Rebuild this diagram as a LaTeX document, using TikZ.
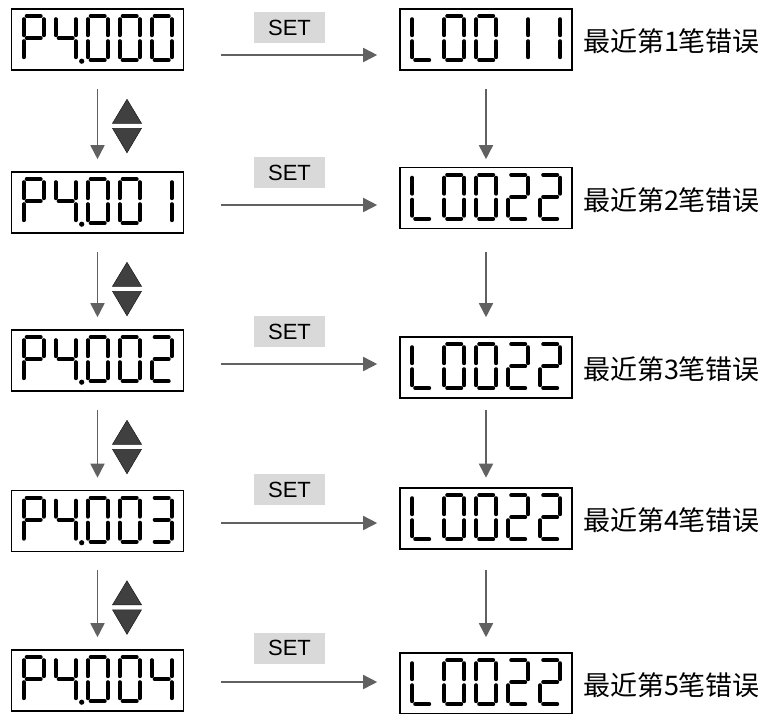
\documentclass[tikz,border=0pt]{standalone}
\usepackage{fontspec}
\setmainfont{Liberation Sans}
\newfontfamily\cjk{Noto Sans CJK SC}
\usetikzlibrary{arrows.meta,calc}

% one digit: origin top left, y downwards
\newcommand{\sga}{(3,0) -- (17,0)}
\newcommand{\sgb}{(20,3) -- (20,19)}
\newcommand{\sgc}{(20,25) -- (20,41)}
\newcommand{\sgd}{(3,44) -- (17,44)}
\newcommand{\sge}{(0,25) -- (0,41)}
\newcommand{\sgf}{(0,3) -- (0,19)}
\newcommand{\sgg}{(3,22) -- (17,22)}
\newcommand{\dgP}{a,b,e,f,g}
\newcommand{\dgZero}{a,b,c,d,e,f}
\newcommand{\dgOne}{b,c}
\newcommand{\dgTwo}{a,b,d,e,g}
\newcommand{\dgThree}{a,b,c,d,g}
\newcommand{\dgFour}{b,c,f,g}
\newcommand{\dgL}{d,e,f}
\newcommand{\sgdigit}[2]{%
  \edef\sglist{#2}%
  \begin{scope}[shift={#1}]
    \foreach \s in \sglist {\expandafter\let\expandafter\sgpath\csname sg\s\endcsname \draw[seg] \sgpath;}
  \end{scope}}
\newcommand{\sgdisplay}[2]{%
  \foreach \segs [count=\i from 0] in {#2}
    {\sgdigit{($(#1.north west)+(13+32*\i,8)$)}{\segs}}}
\newcommand{\sgdot}[1]{\fill ($(#1.north west)+(71,53)$) circle[radius=2.6pt];}
\newcommand{\updown}[1]{%
  \filldraw[updown] ($(#1)+(-14.5,-2.5)$) -- ($(#1)+(0,-26.5)$) -- ($(#1)+(14.5,-2.5)$) -- cycle;
  \filldraw[updown] ($(#1)+(-14.5,2.5)$) -- ($(#1)+(0,27)$) -- ($(#1)+(14.5,2.5)$) -- cycle;}

\begin{document}
\begin{tikzpicture}[x=1pt,y=-1pt,
  disp/.style={draw,line width=1.6pt,minimum width=172pt,minimum height=61pt,inner sep=0pt},
  seg/.style={line width=4pt,line cap=round},
  setkey/.style={fill=black!15,minimum width=71pt,minimum height=31pt,inner sep=0pt,font=\fontsize{22}{24}\selectfont},
  errtxt/.style={anchor=west,inner sep=0pt,font=\cjk\fontsize{27}{30}\selectfont},
  arr/.style={-{Triangle[length=14pt,width=14pt]},line width=1.6pt,black!62},
  updown/.style={fill=black!75,draw=black!90,line width=0.5pt}]
\useasboundingbox (0,0) rectangle (766,713);
% parameter displays
\node[disp] (p1) at (97.5,39.5)  {};
\node[disp] (p2) at (97.5,202.5) {};
\node[disp] (p3) at (97.5,360.5) {};
\node[disp] (p4) at (97.5,521)   {};
\node[disp] (p5) at (97.5,680.5) {};
\sgdisplay{p1}{\dgP,\dgFour,\dgZero,\dgZero,\dgZero} \sgdot{p1}
\sgdisplay{p2}{\dgP,\dgFour,\dgZero,\dgZero,\dgOne}  \sgdot{p2}
\sgdisplay{p3}{\dgP,\dgFour,\dgZero,\dgZero,\dgTwo}  \sgdot{p3}
\sgdisplay{p4}{\dgP,\dgFour,\dgZero,\dgZero,\dgThree} \sgdot{p4}
\sgdisplay{p5}{\dgP,\dgFour,\dgZero,\dgZero,\dgFour} \sgdot{p5}
% error displays
\node[disp] (l1) at (486,39.5)  {};
\node[disp] (l2) at (486,198)   {};
\node[disp] (l3) at (486,367.5) {};
\node[disp] (l4) at (486,518.5) {};
\node[disp] (l5) at (486,683.5) {};
\sgdisplay{l1}{\dgL,\dgZero,\dgZero,\dgOne,\dgOne}
\sgdisplay{l2}{\dgL,\dgZero,\dgZero,\dgTwo,\dgTwo}
\sgdisplay{l3}{\dgL,\dgZero,\dgZero,\dgTwo,\dgTwo}
\sgdisplay{l4}{\dgL,\dgZero,\dgZero,\dgTwo,\dgTwo}
\sgdisplay{l5}{\dgL,\dgZero,\dgZero,\dgTwo,\dgTwo}
\node[errtxt] (t1) at ([xshift=10pt,yshift=-2pt]l1.east) {最近第1笔错误};
\node[errtxt] (t2) at ([xshift=10pt,yshift=-2pt]l2.east) {最近第2笔错误};
\node[errtxt] (t3) at ([xshift=10pt,yshift=-2pt]l3.east) {最近第3笔错误};
\node[errtxt] (t4) at ([xshift=10pt,yshift=-2pt]l4.east) {最近第4笔错误};
\node[errtxt] (t5) at ([xshift=10pt,yshift=-2pt]l5.east) {最近第5笔错误};
% SET keys
\node[setkey] (s1) at (289.5,27.5)  {SET};
\node[setkey] (s2) at (289.5,172.5) {SET};
\node[setkey] (s3) at (289.5,331.5) {SET};
\node[setkey] (s4) at (289.5,489.5) {SET};
\node[setkey] (s5) at (289.5,648)   {SET};
\coordinate (h1) at (221,55);
\coordinate (h2) at (221,205);
\coordinate (h3) at (221,364);
\coordinate (h4) at (221,523);
\coordinate (h5) at (221,682);
\draw[arr,shorten >=22pt] (h1) -- (h1 -| l1.west);
\draw[arr,shorten >=22pt] (h2) -- (h2 -| l2.west);
\draw[arr,shorten >=22pt] (h3) -- (h3 -| l3.west);
\draw[arr,shorten >=22pt] (h4) -- (h4 -| l4.west);
\draw[arr,shorten >=22pt] (h5) -- (h5 -| l5.west);
% up/down stepping
\draw[arr] ([yshift=-18pt]p1.south) coordinate (v1) -- ([yshift=12pt]p2.north) coordinate (w1);
\draw[arr] ([yshift=-18pt]p2.south) coordinate (v2) -- ([yshift=12pt]p3.north) coordinate (w2);
\draw[arr] ([yshift=-18pt]p3.south) coordinate (v3) -- ([yshift=12pt]p4.north) coordinate (w3);
\draw[arr] ([yshift=-18pt]p4.south) coordinate (v4) -- ([yshift=12pt]p5.north) coordinate (w4);
\draw[arr] (v1 -| l1) -- (w1 -| l2);
\draw[arr] (v2 -| l2) -- (w2 -| l3);
\draw[arr] (v3 -| l3) -- (w3 -| l4);
\draw[arr] (v4 -| l4) -- (w4 -| l5);
\coordinate (k1) at ([xshift=29.5pt,yshift=-37pt]v1); \updown{k1}
\coordinate (k2) at ([xshift=29.5pt,yshift=-37pt]v2); \updown{k2}
\coordinate (k3) at ([xshift=29.5pt,yshift=-37pt]v3); \updown{k3}
\coordinate (k4) at ([xshift=29.5pt,yshift=-37pt]v4); \updown{k4}
\end{tikzpicture}
\end{document}
